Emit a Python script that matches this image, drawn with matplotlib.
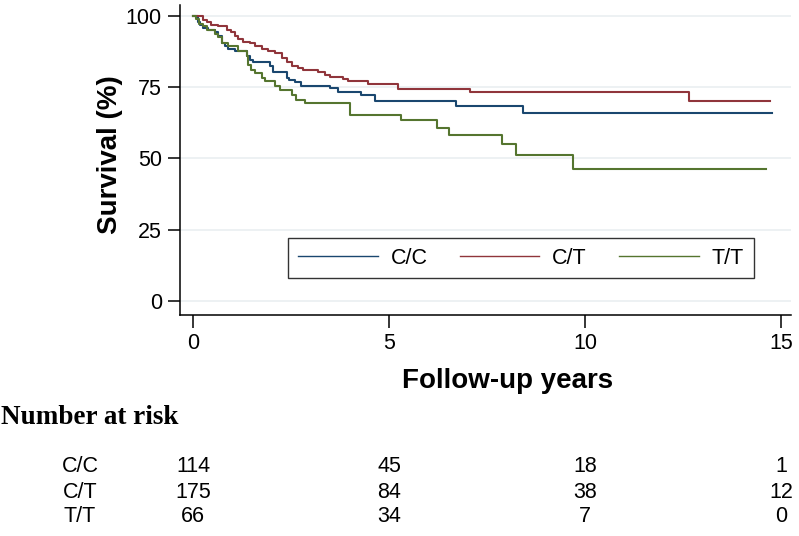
import numpy as np
import matplotlib
matplotlib.use('Agg')
import matplotlib.pyplot as plt
import matplotlib.transforms as mtransforms

# ============================================
# COLOURS (Stata s2color)
# ============================================
CC_COLOR = '#1a476f'
CT_COLOR = '#90353b'
TT_COLOR = '#55752f'
GRID_COLOR = '#e8eef0'

# ============================================
# DATA
# ============================================
groups = ['C/C', 'C/T', 'T/T']

cc_time = [0, 0.11, 0.17, 0.25, 0.38, 0.55, 0.63, 0.72, 0.80, 0.89, 1.06, 1.36, 1.44,
           1.53, 1.95, 2.04, 2.38, 2.45, 2.59, 2.76, 3.48, 3.69, 4.29, 4.63, 6.70, 8.41, 14.77]
cc_surv = [100, 98.0, 96.9, 95.7, 94.9, 94.2, 92.8, 90.4, 89.5, 88.3, 87.5, 85.8, 84.6,
           83.7, 82.3, 80.2, 78.2, 77.6, 76.7, 75.5, 74.7, 73.2, 72.4, 70.3, 68.4, 65.9, 65.9]

ct_time = [0, 0.25, 0.34, 0.46, 0.63, 0.85, 0.97, 1.06, 1.14, 1.27, 1.44, 1.57, 1.74,
           1.91, 2.08, 2.25, 2.38, 2.51, 2.67, 2.79, 3.18, 3.35, 3.48, 3.81, 3.94, 4.45,
           5.22, 7.05, 12.66, 14.72]
ct_surv = [100, 98.6, 97.7, 96.9, 96.3, 95.1, 94.2, 92.8, 91.8, 91.0, 90.4, 89.5, 88.3,
           87.5, 87.0, 85.2, 83.7, 82.5, 81.7, 80.9, 80.2, 79.4, 78.6, 77.9, 77.0, 76.2,
           74.3, 73.2, 70.0, 70.0]

tt_time = [0, 0.08, 0.14, 0.25, 0.34, 0.55, 0.63, 0.72, 0.89, 1.13, 1.36, 1.40, 1.48,
           1.57, 1.74, 1.82, 2.08, 2.20, 2.51, 2.61, 2.84, 3.99, 5.31, 6.23, 6.52, 7.87,
           8.24, 9.69, 14.6]
tt_surv = [100, 99.0, 97.2, 96.3, 95.1, 93.7, 92.6, 90.4, 89.5, 87.5, 85.8, 82.9, 81.1,
           80.0, 78.2, 77.0, 75.5, 74.1, 72.4, 70.6, 69.5, 65.4, 63.4, 60.7, 58.3, 55.2,
           51.3, 46.2, 46.2]

risk_times = [0, 5, 10, 15]
risk_cc = [114, 45, 18, 1]
risk_ct = [175, 84, 38, 12]
risk_tt = [66, 34, 7, 0]

x_ticks = [0, 5, 10, 15]
y_ticks = [0, 25, 50, 75, 100]

# ============================================
# FIGURE
# ============================================
W, H = 799, 536
fig = plt.figure(figsize=(W / 100, H / 100), dpi=100)
fig.patch.set_facecolor('white')

ax = fig.add_axes([180 / W, 1 - 315 / H, (791 - 180) / W, (315 - 5) / H])
ax.set_xlim(-0.34, 15.25)
ax.set_ylim(-4.9, 103.8)

for s in ['top', 'right']:
    ax.spines[s].set_visible(False)
for s in ['left', 'bottom']:
    ax.spines[s].set_linewidth(1.1)
    ax.spines[s].set_color('black')

ax.set_yticks(y_ticks)
ax.set_xticks(x_ticks)
ax.tick_params(axis='both', direction='out', length=9, width=1.1, labelsize=15.5,
               colors='black', pad=4)
ax.set_yticklabels([str(v) for v in y_ticks], fontfamily='Liberation Sans')
ax.set_xticklabels([str(v) for v in x_ticks], fontfamily='Liberation Sans')
for v in y_ticks:
    ax.axhline(v, color=GRID_COLOR, linewidth=1.1, zorder=0)

ax.step(cc_time, cc_surv, where='post', color=CC_COLOR, linewidth=1.5, label=groups[0])
ax.step(ct_time, ct_surv, where='post', color=CT_COLOR, linewidth=1.5, label=groups[1])
ax.step(tt_time, tt_surv, where='post', color=TT_COLOR, linewidth=1.5, label=groups[2])

# y-axis title
fig.text(110 / W, 1 - 155 / H, 'Survival (%)', rotation=90, ha='center', va='center',
         fontsize=20, fontweight='bold', fontfamily='Liberation Sans')

leg = ax.legend(ncol=3, loc='center', bbox_to_anchor=(521 / W, 1 - 258 / H),
                bbox_transform=fig.transFigure, frameon=True, fancybox=False,
                edgecolor='black', handlelength=3.7, handletextpad=0.6,
                columnspacing=1.5, borderpad=0.45,
                prop={'family': 'Liberation Sans', 'size': 15.5})
leg.get_frame().set_linewidth(1.0)
for line in leg.get_lines():
    line.set_linewidth(1.0)

# x-axis title
fig.text(508 / W, 1 - 381 / H, 'Follow-up years', ha='center', va='center',
         fontsize=20, fontweight='bold', fontfamily='Liberation Sans')

# Number at risk table
fig.text(1 / W, 1 - 418 / H, 'Number at risk', ha='left', va='center',
         fontsize=19.5, fontweight='bold', fontfamily='Liberation Serif')

trans = mtransforms.blended_transform_factory(ax.transData, fig.transFigure)
rows_y = [467, 492, 516]
for name, counts, ypix in zip(groups, [risk_cc, risk_ct, risk_tt], rows_y):
    fig.text(80 / W, 1 - ypix / H, name, ha='center', va='center', fontsize=15.5,
             fontfamily='Liberation Sans')
    for t, n in zip(risk_times, counts):
        ax.text(t, 1 - ypix / H, str(n), transform=trans, ha='center', va='center',
                fontsize=15.5, fontfamily='Liberation Sans', clip_on=False)

plt.savefig('out.png', dpi=100, facecolor='white')
plt.close()
